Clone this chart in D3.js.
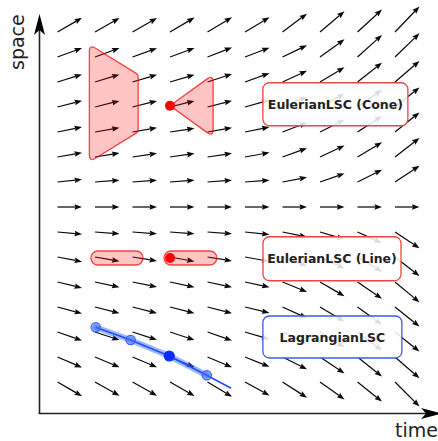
<!DOCTYPE html>
<html><head><meta charset="utf-8">
<script src="https://cdn.jsdelivr.net/npm/d3@7"></script>
<style>body{margin:0;background:#fff}svg{display:block}</style>
</head><body><svg id="c" width="438" height="441"></svg>
<script>
// ---- data ----
const timeSteps = [0,1,2,3,4,5,6,7,8,9];
const spaceSteps = [14,13,12,11,10,9,8,7,6,5,4,3,2,1,0];
// vertical component of the field (per unit time), rows listed from top (space 14) to bottom (space 0)
const slopeRows = [
  [ 0.58, 0.57, 0.57, 0.59, 0.60, 0.60, 0.75, 0.85, 0.92, 1.04],
  [ 0.37, 0.37, 0.36, 0.37, 0.39, 0.38, 0.48, 0.72, 0.90, 0.97],
  [ 0.31, 0.31, 0.30, 0.30, 0.33, 0.36, 0.46, 0.60, 0.79, 0.86],
  [ 0.26, 0.25, 0.25, 0.25, 0.26, 0.28, 0.42, 0.55, 0.70, 0.80],
  [ 0.20, 0.17, 0.17, 0.15, 0.17, 0.20, 0.38, 0.50, 0.65, 0.80],
  [ 0.17, 0.16, 0.15, 0.14, 0.15, 0.18, 0.36, 0.47, 0.60, 0.78],
  [ 0.10, 0.07, 0.07, 0.07, 0.07, 0.07, 0.19, 0.35, 0.50, 0.66],
  [ 0.00, 0.00, 0.00, 0.00, 0.00, 0.00, 0.00, 0.00, 0.00, 0.00],
  [-0.09,-0.07,-0.07,-0.07,-0.07,-0.10,-0.20,-0.30,-0.45,-0.66],
  [-0.19,-0.17,-0.16,-0.18,-0.16,-0.18,-0.36,-0.47,-0.60,-0.78],
  [-0.24,-0.21,-0.20,-0.21,-0.21,-0.21,-0.41,-0.58,-0.68,-0.83],
  [-0.27,-0.25,-0.25,-0.25,-0.26,-0.24,-0.45,-0.60,-0.72,-0.80],
  [-0.35,-0.33,-0.32,-0.33,-0.35,-0.30,-0.48,-0.62,-0.76,-0.80],
  [-0.43,-0.42,-0.42,-0.42,-0.42,-0.40,-0.50,-0.67,-0.80,-0.87],
  [-0.58,-0.56,-0.56,-0.57,-0.60,-0.55,-0.64,-0.71,-0.80,-1.00]
];
const coneTrapezoid = [[0.85,13.5],[2.15,12.3],[2.15,10.0],[0.85,8.8]];
const coneTriangle  = [[3.0,11.05],[4.15,12.3],[4.15,9.8]];
const coneAnchor    = [3.0,11.05];
const lineSegments  = [[0.89,2.28],[2.84,4.25]];
const lineLevel     = 4.96;
const lineAnchor    = [3.0,4.96];
const lagrangeT     = [1.02,1.95,2.98,3.98,4.63];
const lagrangeS     = [2.19,1.68,1.04,0.27,-0.25];
const lagrangeMarks = [0,1,2,3];
const lagrangeAnchor = 2;
const labelTexts = ["EulerianLSC (Cone)","EulerianLSC (Line)","LagrangianLSC"];
const labelT = [7.41,7.32,7.33];
const labelS = [11.11,4.93,1.80];
const axisLabels = ["time","space"];

// ---- layout / style ----
const labelStyle = [
  {w:145,h:43,stroke:"#ee4444"},
  {w:138,h:44,stroke:"#ee4444"},
  {w:139,h:42,stroke:"#3a5cf0"}
];
const svg = d3.select("#c");
svg.append("rect").attr("width",438).attr("height",441).attr("fill","#fff");
const x = d3.scaleLinear().domain([0,9]).range([57.5,395]);
const y = d3.scaleLinear().domain([0,14]).range([382,32]);
const arrowLen = 24.5; // pixels per unit time

function roundedPoly(pts, r){
  let d=""; const n=pts.length;
  for(let i=0;i<n;i++){
    const p0=pts[(i-1+n)%n], p1=pts[i], p2=pts[(i+1)%n];
    const v1=[p0[0]-p1[0],p0[1]-p1[1]], v2=[p2[0]-p1[0],p2[1]-p1[1]];
    const l1=Math.hypot(v1[0],v1[1]), l2=Math.hypot(v2[0],v2[1]);
    const ang=Math.acos((v1[0]*v2[0]+v1[1]*v2[1])/(l1*l2));
    const cut=Math.min(r/Math.tan(ang/2), l1/2, l2/2);
    const a=[p1[0]+v1[0]/l1*cut, p1[1]+v1[1]/l1*cut];
    const b=[p1[0]+v2[0]/l2*cut, p1[1]+v2[1]/l2*cut];
    d += (i===0?"M":"L")+a[0]+","+a[1]+"Q"+p1[0]+","+p1[1]+" "+b[0]+","+b[1];
  }
  return d+"Z";
}

// ---- vector field ----
const field = [];
spaceSteps.forEach((s,i)=>timeSteps.forEach((t,j)=>field.push({t,s,v:slopeRows[i][j]})));
const gF = svg.append("g");
field.forEach(f=>{
  const x0=x(f.t), y0=y(f.s);
  const x1=x0+arrowLen, y1=y0-arrowLen*f.v;
  const len=Math.hypot(x1-x0,y1-y0), ux=(x1-x0)/len, uy=(y1-y0)/len;
  const hl=7.5, hw=2.8, notch=6.6;
  const bx=x1-ux*hl, by=y1-uy*hl, nx=x1-ux*notch, ny=y1-uy*notch;
  gF.append("line").attr("x1",x0).attr("y1",y0).attr("x2",nx).attr("y2",ny)
    .attr("stroke","#0a0a0a").attr("stroke-width",1.25);
  gF.append("path").attr("d",`M${x1},${y1}L${bx-uy*hw},${by+ux*hw}L${nx},${ny}L${bx+uy*hw},${by-ux*hw}Z`)
    .attr("fill","#0a0a0a");
});

// ---- Eulerian cone ----
const redFill="rgba(255,0,0,0.23)", redStroke="rgba(255,0,0,0.72)";
[coneTrapezoid, coneTriangle].forEach(poly=>{
  svg.append("path").attr("d",roundedPoly(poly.map(p=>[x(p[0]),y(p[1])]),4))
    .attr("fill",redFill).attr("stroke",redStroke).attr("stroke-width",1.3);
});
svg.append("circle").attr("cx",x(coneAnchor[0])).attr("cy",y(coneAnchor[1])).attr("r",5).attr("fill","#f00");

// ---- Eulerian line ----
lineSegments.forEach(seg=>{
  const h=14;
  svg.append("rect").attr("x",x(seg[0])).attr("y",y(lineLevel)-h/2)
    .attr("width",x(seg[1])-x(seg[0])).attr("height",h).attr("rx",h/2)
    .attr("fill",redFill).attr("stroke",redStroke).attr("stroke-width",1.3);
});
svg.append("circle").attr("cx",x(lineAnchor[0])).attr("cy",y(lineAnchor[1])).attr("r",5).attr("fill","#f00");

// ---- Lagrangian ----
const lagPts = lagrangeT.map((t,i)=>[x(t),y(lagrangeS[i])]);
const ln = d3.line();
svg.append("path").attr("d",ln(lagPts.slice(0,4))).attr("fill","none")
  .attr("stroke","rgba(40,100,255,0.45)").attr("stroke-width",6).attr("stroke-linecap","round");
svg.append("path").attr("d",ln(lagPts)).attr("fill","none")
  .attr("stroke","#1f4dff").attr("stroke-width",1.7);
lagrangeMarks.forEach(i=>{
  const anchor = i===lagrangeAnchor;
  svg.append("circle").attr("cx",lagPts[i][0]).attr("cy",lagPts[i][1]).attr("r",anchor?5:4.7)
    .attr("fill",anchor?"#0a2cff":"rgba(60,110,255,0.55)")
    .attr("stroke",anchor?"#0a2cff":"#3b62ff").attr("stroke-width",1.2);
});

// ---- axes ----
const axisCol="#222";
svg.append("line").attr("x1",39.5).attr("y1",414).attr("x2",39.5).attr("y2",28).attr("stroke",axisCol).attr("stroke-width",1.6);
svg.append("path").attr("d","M39.5,14L45,35L39.5,30L34,35Z").attr("fill","#000");
svg.append("line").attr("x1",38.7).attr("y1",413.5).attr("x2",428).attr("y2",413.5).attr("stroke",axisCol).attr("stroke-width",1.6);
svg.append("path").attr("d","M442,413.5L421,408L426,413.5L421,419Z").attr("fill","#000");
svg.append("text").attr("x",395).attr("y",436.5).text(axisLabels[0])
  .attr("font-family","DejaVu Sans").attr("font-size",19).attr("fill","#222");
svg.append("text").attr("transform","translate(24,70) rotate(-90)").text(axisLabels[1])
  .attr("font-family","DejaVu Sans").attr("font-size",19).attr("fill","#222");

// ---- labels ----
labelTexts.forEach((txt,i)=>{
  const cx=x(labelT[i]), cy=y(labelS[i]), st=labelStyle[i];
  svg.append("rect").attr("x",cx-st.w/2).attr("y",cy-st.h/2).attr("width",st.w).attr("height",st.h)
    .attr("rx",6.5).attr("fill","rgba(255,255,255,0.86)").attr("stroke",st.stroke).attr("stroke-width",1.3);
  svg.append("text").attr("x",cx).attr("y",cy).attr("dy","0.36em").attr("text-anchor","middle")
    .attr("font-family","DejaVu Sans").attr("font-weight","bold").attr("font-size",12.5)
    .attr("fill","#222").text(txt);
});
</script></body></html>
